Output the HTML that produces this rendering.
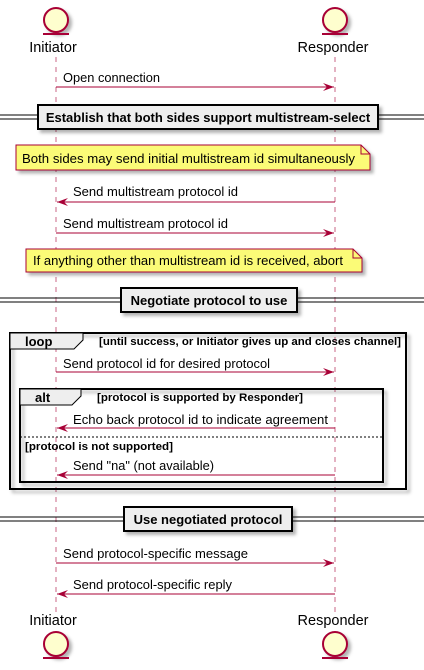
<!DOCTYPE html>
<html><head><style>body{margin:0;background:#fff}svg{display:block}</style></head><body>
<svg width="424" height="670" xmlns="http://www.w3.org/2000/svg" font-family="Liberation Sans, sans-serif">
<defs>
<filter id="sh" x="-5%" y="-5%" width="115%" height="130%"><feDropShadow dx="3" dy="3" stdDeviation="1.5" flood-color="#000" flood-opacity="0.3"/></filter>
</defs>
<g stroke="#A80036" stroke-dasharray="5,5" stroke-width="1" opacity="0.6">
<line x1="56" y1="57" x2="56" y2="613"/><line x1="335" y1="57" x2="335" y2="613"/>
</g>
<g fill="#FEFECE" stroke="#A80036" stroke-width="2" filter="url(#sh)">
<circle cx="56" cy="20" r="12"/><circle cx="335" cy="20" r="12"/>
<circle cx="56" cy="644" r="12"/><circle cx="335" cy="644" r="12"/>
</g>
<g stroke="#A80036" stroke-width="2">
<line x1="43" y1="34" x2="69" y2="34"/><line x1="322" y1="34" x2="348" y2="34"/>
<line x1="43" y1="658" x2="69" y2="658"/><line x1="322" y1="658" x2="348" y2="658"/>
</g>
<g font-size="14.5" fill="#000" text-anchor="middle">
<text x="53" y="52">Initiator</text><text x="333" y="52">Responder</text>
<text x="53" y="625">Initiator</text><text x="333" y="625">Responder</text>
</g>
<g stroke="#000" stroke-width="1">
<line x1="0" y1="115" x2="424" y2="115"/><line x1="0" y1="119" x2="424" y2="119"/>
<line x1="0" y1="298" x2="424" y2="298"/><line x1="0" y1="302" x2="424" y2="302"/>
<line x1="0" y1="517" x2="424" y2="517"/><line x1="0" y1="521" x2="424" y2="521"/>
</g>
<g fill="#EEEEEE" stroke="#000" stroke-width="2" filter="url(#sh)">
<rect x="38" y="105" width="340" height="24"/>
<rect x="121" y="288" width="176" height="24"/>
<rect x="124" y="507" width="168" height="24"/>
</g>
<g font-size="13" font-weight="bold" text-anchor="middle">
<text x="208" y="122">Establish that both sides support multistream-select</text>
<text x="209" y="305">Negotiate protocol to use</text>
<text x="208" y="524">Use negotiated protocol</text>
</g>
<g fill="#FBFB77" stroke="#A80036" stroke-width="1" filter="url(#sh)">
<path d="M16,145 H361 L370,154 V170 H16 Z"/>
<path d="M26,249 H353 L362,258 V272 H26 Z"/>
</g>
<g fill="none" stroke="#A80036"><path d="M361,145 V154 H370"/><path d="M353,249 V258 H362"/></g>
<g font-size="13">
<text x="22" y="163" textLength="333" lengthAdjust="spacingAndGlyphs">Both sides may send initial multistream id simultaneously</text>
<text x="33" y="265" textLength="310" lengthAdjust="spacingAndGlyphs">If anything other than multistream id is received, abort</text>
</g>
<rect x="10" y="333" width="396" height="156" fill="none" stroke="#000" stroke-width="2" filter="url(#sh)"/>
<path d="M10,333 H83 V340 L74,349 H10 Z" fill="#EEEEEE" stroke="#000" stroke-width="1"/>
<text x="25" y="346" font-size="13" font-weight="bold">loop</text>
<text x="99" y="345" font-size="11" font-weight="bold" textLength="302" lengthAdjust="spacingAndGlyphs">[until success, or Initiator gives up and closes channel]</text>
<rect x="20" y="389" width="363" height="93" fill="none" stroke="#000" stroke-width="2" filter="url(#sh)"/>
<path d="M20,389 H81 V396 L72,405 H20 Z" fill="#EEEEEE" stroke="#000" stroke-width="1"/>
<text x="35" y="402" font-size="13" font-weight="bold">alt</text>
<text x="97" y="401" font-size="11" font-weight="bold" textLength="206" lengthAdjust="spacingAndGlyphs">[protocol is supported by Responder]</text>
<line x1="20" y1="437" x2="383" y2="437" stroke="#000" stroke-dasharray="2,2"/>
<text x="25" y="450" font-size="11" font-weight="bold" textLength="148" lengthAdjust="spacingAndGlyphs">[protocol is not supported]</text>
<g stroke="#A80036" stroke-width="1">
<line x1="56" y1="87" x2="334" y2="87"/>
<line x1="57" y1="202" x2="335" y2="202"/>
<line x1="56" y1="233" x2="334" y2="233"/>
<line x1="56" y1="372" x2="334" y2="372"/>
<line x1="57" y1="428" x2="335" y2="428"/>
<line x1="57" y1="475" x2="335" y2="475"/>
<line x1="56" y1="563" x2="334" y2="563"/>
<line x1="57" y1="594" x2="335" y2="594"/>
</g>
<g fill="#A80036">
<path d="M334,87 L323,83 L327,87 L323,91Z"/>
<path d="M57,202 L68,198 L64,202 L68,206Z"/>
<path d="M334,233 L323,229 L327,233 L323,237Z"/>
<path d="M334,372 L323,368 L327,372 L323,376Z"/>
<path d="M57,428 L68,424 L64,428 L68,432Z"/>
<path d="M57,475 L68,471 L64,475 L68,479Z"/>
<path d="M334,563 L323,559 L327,563 L323,567Z"/>
<path d="M57,594 L68,590 L64,594 L68,598Z"/>
</g>
<g font-size="13">
<text x="63" y="82" textLength="97" lengthAdjust="spacingAndGlyphs">Open connection</text>
<text x="73" y="196" textLength="165" lengthAdjust="spacingAndGlyphs">Send multistream protocol id</text>
<text x="63" y="228" textLength="165" lengthAdjust="spacingAndGlyphs">Send multistream protocol id</text>
<text x="63" y="368" textLength="207" lengthAdjust="spacingAndGlyphs">Send protocol id for desired protocol</text>
<text x="73" y="424" textLength="255" lengthAdjust="spacingAndGlyphs">Echo back protocol id to indicate agreement</text>
<text x="73" y="470" textLength="141" lengthAdjust="spacingAndGlyphs">Send "na" (not available)</text>
<text x="63" y="558" textLength="185" lengthAdjust="spacingAndGlyphs">Send protocol-specific message</text>
<text x="73" y="589" textLength="159" lengthAdjust="spacingAndGlyphs">Send protocol-specific reply</text>
</g>
</svg>
</body></html>
